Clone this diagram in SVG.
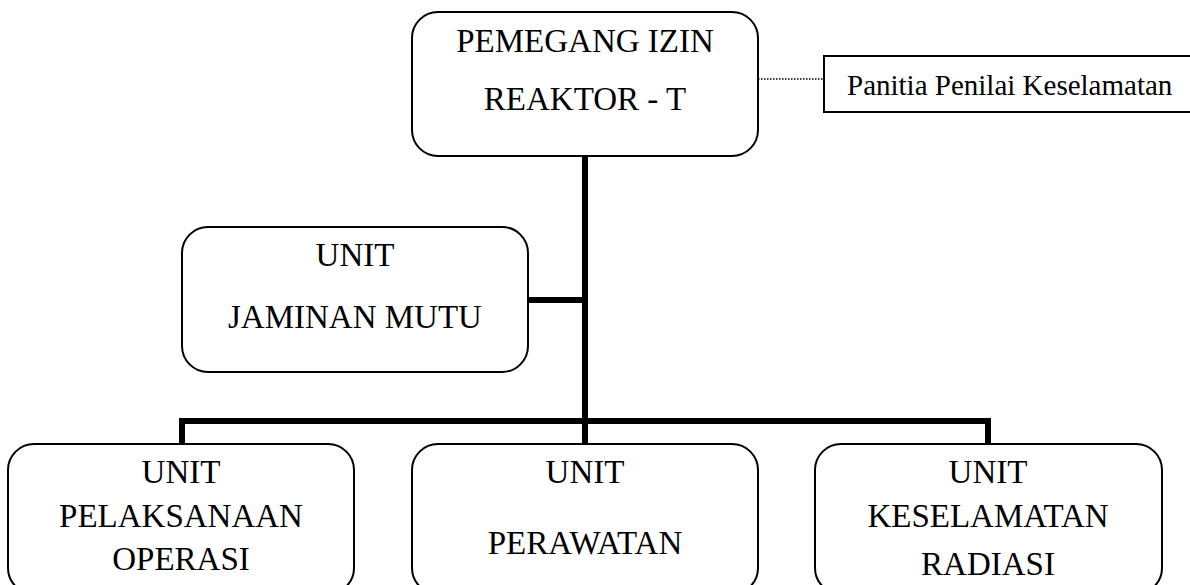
<svg xmlns="http://www.w3.org/2000/svg" width="1190" height="585" viewBox="0 0 1190 585">
<style>
.box{fill:#fff;stroke:#000;stroke-width:2}
.t{font-family:"Liberation Serif","Times New Roman",serif;font-size:33px;fill:#000;text-anchor:middle}
.s{font-family:"Liberation Serif","Times New Roman",serif;font-size:29px;fill:#000}
.c{fill:none;stroke:#000;stroke-width:6}
</style>
<rect width="1190" height="585" fill="#fff"/>
<g id="connectors">
<line class="c" x1="585" y1="156" x2="585" y2="444"/>
<line class="c" x1="528" y1="300" x2="585" y2="300"/>
<polyline class="c" points="182,444 182,421 988,421 988,444"/>
<line x1="758" y1="79" x2="824" y2="79" stroke="#000" stroke-width="1.3" stroke-dasharray="1.5,1.5"/>
</g>
<g id="node-pemegang">
<rect class="box" x="412" y="12" width="346" height="144" rx="26" ry="26"/>
<text class="t" x="585" y="52">PEMEGANG IZIN</text>
<text class="t" x="585" y="110">REAKTOR - T</text>
</g>
<g id="node-panitia">
<rect x="824" y="56" width="380" height="56" fill="#fff" stroke="#000" stroke-width="2"/>
<text class="s" x="847" y="95">Panitia Penilai Keselamatan</text>
</g>
<g id="node-jaminan">
<rect class="box" x="182" y="227" width="346" height="145" rx="26" ry="26"/>
<text class="t" x="355" y="266">UNIT</text>
<text class="t" x="355" y="328">JAMINAN MUTU</text>
</g>
<g id="node-operasi">
<rect class="box" x="8" y="444" width="346" height="150" rx="26" ry="26"/>
<text class="t" x="181" y="483">UNIT</text>
<text class="t" x="181" y="527">PELAKSANAAN</text>
<text class="t" x="181" y="570">OPERASI</text>
</g>
<g id="node-perawatan">
<rect class="box" x="412" y="444" width="346" height="150" rx="26" ry="26"/>
<text class="t" x="585" y="483">UNIT</text>
<text class="t" x="585" y="554">PERAWATAN</text>
</g>
<g id="node-radiasi">
<rect class="box" x="815" y="444" width="347" height="150" rx="26" ry="26"/>
<text class="t" x="988" y="483">UNIT</text>
<text class="t" x="988" y="527">KESELAMATAN</text>
<text class="t" x="988" y="575">RADIASI</text>
</g>
</svg>
